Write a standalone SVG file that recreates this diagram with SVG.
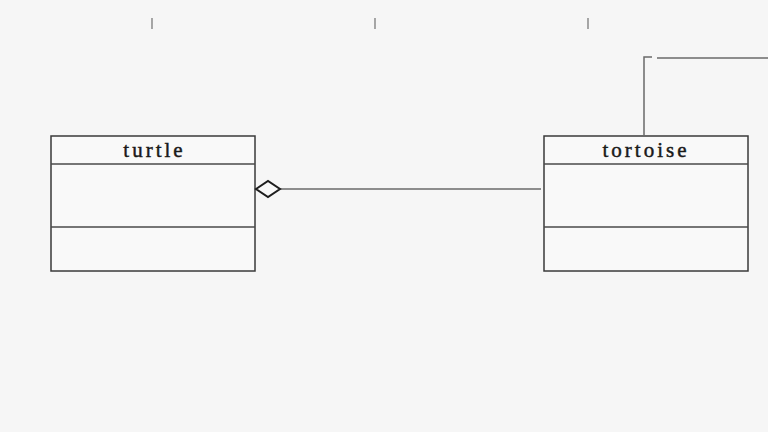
<svg xmlns="http://www.w3.org/2000/svg" width="768" height="432" viewBox="0 0 768 432">
<style>
.box{fill:#f9f9f9;stroke:#3a3a3a;stroke-width:1.5}
.div{stroke:#4a4a4a;stroke-width:1.5}
.name{font-family:"Liberation Serif","DejaVu Serif",serif;font-size:21px;fill:#1a1a1a;stroke:#1a1a1a;stroke-width:0.45;text-anchor:middle;letter-spacing:3px}
.conn{fill:none;stroke:#6a6a6a;stroke-width:1.5}
.tick{stroke:#7a7a7a;stroke-width:1.3}
</style>
<rect width="768" height="432" fill="#f6f6f6"/>
<g id="ticks">
<line class="tick" x1="152" y1="18" x2="152" y2="29"/>
<line class="tick" x1="375" y1="18" x2="375" y2="29"/>
<line class="tick" x1="588" y1="18" x2="588" y2="29"/>
</g>
<g id="turtle">
<rect class="box" x="51" y="136" width="204" height="135"/>
<line class="div" x1="51" y1="164" x2="255" y2="164"/>
<line class="div" x1="51" y1="227" x2="255" y2="227"/>
<text class="name" x="154.5" y="157">turtle</text>
</g>
<g id="tortoise">
<rect class="box" x="544" y="136" width="204" height="135"/>
<line class="div" x1="544" y1="164" x2="748" y2="164"/>
<line class="div" x1="544" y1="227" x2="748" y2="227"/>
<text class="name" x="646" y="157">tortoise</text>
</g>
<g id="connectors">
<line class="conn" x1="280" y1="189" x2="541" y2="189"/>
<polygon points="256,189 268,181 280,189 268,197" fill="#f9f9f9" stroke="#1e1e1e" stroke-width="2"/>
<polyline class="conn" points="644,135 644,57 652,57"/>
<line class="conn" x1="657" y1="58" x2="768" y2="58"/>
</g>
</svg>
